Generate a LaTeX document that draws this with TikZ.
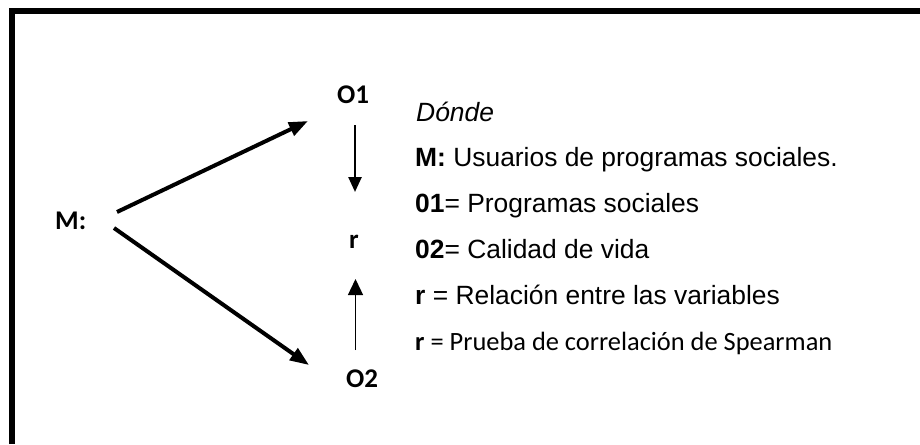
\documentclass[tikz,border=0pt]{standalone}
\usepackage{fontspec}
\usetikzlibrary{arrows.meta}
\newfontfamily\arialx{Liberation Sans}
\newfontfamily\calx{Carlito}
\tikzset{
  lbl/.style={inner sep=0pt, font=\calx\bfseries\fontsize{27}{27}\selectfont},
  leg/.style={inner sep=0pt, anchor=base west, font=\arialx\fontsize{26.4}{26.4}\selectfont},
  legc/.style={inner sep=0pt, anchor=base west, font=\calx\fontsize{26.4}{26.4}\selectfont},
  diag/.style={line width=4pt, -{Triangle[length=19pt,width=14pt]}},
  vthick/.style={line width=2.5pt, -{Triangle[length=15pt,width=13pt]}},
  vthin/.style={line width=1.3pt, -{Triangle[length=16pt,width=15pt]}}
}
\begin{document}
\begin{tikzpicture}[x=1pt,y=-1pt]
\useasboundingbox (0,0) rectangle (920,444);
\fill[white] (0,0) rectangle (920,444);
% frame
\draw[line width=6pt, line join=miter] (11.5,444) -- (11.5,11) -- (920,11);
% labels
\node[lbl, anchor=base west] (M) at (55,229) {M:};
\node[lbl, anchor=base] (O1) at (353,103) {O1};
\node[lbl, anchor=base] (r) at (354,248) {r};
\node[lbl, anchor=base west] (O2) at (346,387) {O2};
% connector end points
\coordinate (mu) at (117,212);
\coordinate (o1in) at (308,121);
\coordinate (md) at (114,228);
\coordinate (o2in) at (309,365);
\coordinate (o1out) at (355,125);
\coordinate (rin) at (355,192);
\coordinate (o2out) at (355.5,350);
\coordinate (rin2) at (355.5,279);
\draw[diag] (mu) -- (o1in);
\draw[diag] (md) -- (o2in);
\draw[vthick] (o1out) -- (rin);
\draw[vthin] (o2out) -- (rin2);
% legend
\node[leg] (l0) at (416,121) {\textit{Dónde}};
\node[leg] (l1) at (415,166) {\textbf{M:} Usuarios de programas sociales.};
\node[leg] (l2) at (415,212) {\textbf{01}= Programas sociales};
\node[leg] (l3) at (415,258) {\textbf{02}= Calidad de vida};
\node[leg] (l4) at (415,304) {\textbf{r} = Relación entre las variables};
\node[legc] (l5) at (415,350) {\textbf{r} = Prueba de correlación de Spearman};
\end{tikzpicture}
\end{document}
